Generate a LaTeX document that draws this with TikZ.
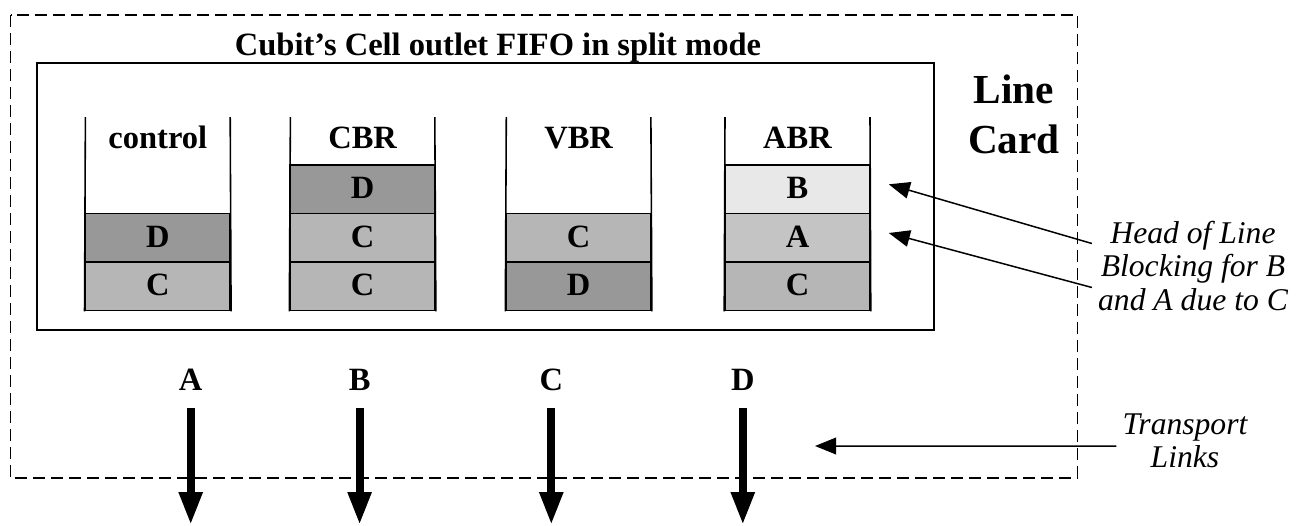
\documentclass[tikz,border=0pt]{standalone}
\usepackage{fontspec}
\setmainfont{Liberation Serif}
\usetikzlibrary{arrows.meta}
\definecolor{cellD}{gray}{0.596}
\definecolor{cellC}{gray}{0.714}
\definecolor{cellA}{gray}{0.769}
\definecolor{cellB}{gray}{0.91}
\tikzset{
  cell/.style={draw, line width=0.9pt, minimum width=2.9cm, minimum height=0.974cm,
    inner sep=0pt, text height=12.25pt, text depth=2pt,
    font=\fontsize{18.5}{21}\selectfont\bfseries},
  lbl/.style={font=\fontsize{18.5}{21}\selectfont\bfseries},
  big/.style={font=\fontsize{23.5}{28}\selectfont\bfseries},
  note/.style={font=\fontsize{18}{19}\selectfont\itshape, align=center},
  wall/.style={line width=0.9pt},
  linkarrow/.style={line width=4.5pt, shorten <=0.234cm, -{Triangle[width=12.5pt,length=18.7pt]}},
  notearrow/.style={line width=0.85pt, -{Triangle[width=9.5pt,length=12pt]}},
}
\begin{document}
\begin{tikzpicture}[x=0.02cm,y=-0.02cm]
  \useasboundingbox (0,0) rectangle (1306,525);
  \draw[dash pattern=on 0.24cm off 0.12cm, line width=0.75pt] (10.5,15) rectangle (1077.5,478);
  \draw[wall] (37,63) rectangle (934,330);
  \draw
    (498,55) node[lbl,anchor=base] (title){Cubit's Cell outlet FIFO in split mode}
    (1014,103) node[big,anchor=base] (lcLine){Line}
    (1014,153) node[big,anchor=base] (lcCard){Card};
  \draw
    (157.8,148.3) node[lbl,anchor=base] (ctlH){control}
    (362.6,148.3) node[lbl,anchor=base] (cbrH){CBR}
    (578.6,148.3) node[lbl,anchor=base] (vbrH){VBR}
    (797.5,148.3) node[lbl,anchor=base] (abrH){ABR};
  \draw
    (157.8,238.0) node[cell,fill=cellD] (ctl2){D}
    (157.8,286.3) node[cell,fill=cellC] (ctl3){C}
    (362.6,189.3) node[cell,fill=cellD] (cbr1){D}
    (362.6,238.0) node[cell,fill=cellC] (cbr2){C}
    (362.6,286.3) node[cell,fill=cellC] (cbr3){C}
    (578.6,238.0) node[cell,fill=cellC] (vbr2){C}
    (578.6,286.3) node[cell,fill=cellD] (vbr3){D}
    (797.5,189.3) node[cell,fill=cellB] (abr1){B}
    (797.5,238.0) node[cell,fill=cellA] (abr2){A}
    (797.5,286.3) node[cell,fill=cellC] (abr3){C};
  \draw[wall] (85.4,117) -- (ctl3.south west);
  \draw[wall] (230.2,117) -- (ctl3.south east);
  \draw[wall] (290.4,117) -- (cbr3.south west);
  \draw[wall] (434.8,117) -- (cbr3.south east);
  \draw[wall] (506.3,117) -- (vbr3.south west);
  \draw[wall] (650.9,117) -- (vbr3.south east);
  \draw[wall] (725.0,117) -- (abr3.south west);
  \draw[wall] (870.0,117) -- (abr3.south east);
  \draw
    (190.7,390) node[lbl,anchor=base] (la){A}
    (359.6,390) node[lbl,anchor=base] (lb){B}
    (551.3,390) node[lbl,anchor=base] (lc){C}
    (742.8,390) node[lbl,anchor=base] (ld){D};
  \coordinate (oa) at (190.7,525);
  \coordinate (ob) at (359.6,525);
  \coordinate (oc) at (551.3,525);
  \coordinate (od) at (742.8,525);
  \begin{scope}[linkarrow]
    \draw (la) to (oa);
    \draw (lb) to (ob);
    \draw (lc) to (oc);
    \draw (ld) to (od);
  \end{scope}
  \draw
    (1193,266) node[note] (hol){Head of Line\\Blocking for B\\and A due to C}
    (1185,441) node[note] (tl){Transport\\Links};
  \coordinate (tend) at (815,446);
  \begin{scope}[notearrow]
    \draw ([yshift=0.45cm]hol.west) to ([xshift=0.36cm,yshift=0.1cm]abr1.east);
    \draw ([yshift=-0.43cm]hol.west) to ([xshift=0.36cm,yshift=0.1cm]abr2.east);
    \draw ([yshift=-0.1cm]tl.west) to (tend);
  \end{scope}
\end{tikzpicture}
\end{document}
